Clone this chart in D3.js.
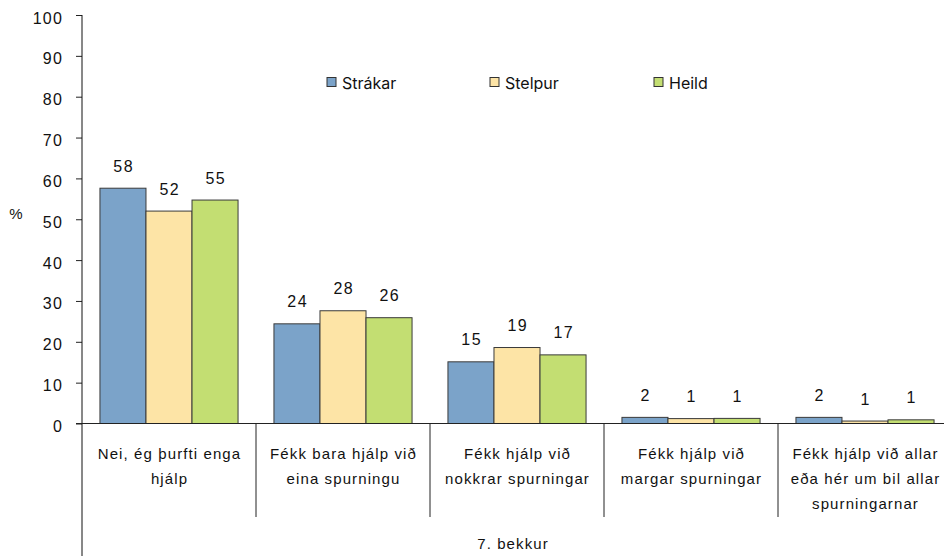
<!DOCTYPE html>
<html>
<head>
<meta charset="utf-8">
<script src="https://cdn.jsdelivr.net/npm/d3@7"></script>
<style>
  body { margin: 0; background: #fff; }
  svg { display: block; }
  text { font-family: "Liberation Sans", Arial, sans-serif; fill: #111; }
</style>
</head>
<body>
<div id="chart"></div>
<script>
// data
const categories = [
  ["Nei, ég þurfti enga", "hjálp"],
  ["Fékk bara hjálp við", "eina spurningu"],
  ["Fékk hjálp við", "nokkrar spurningar"],
  ["Fékk hjálp við", "margar spurningar"],
  ["Fékk hjálp við allar", "eða hér um bil allar", "spurningarnar"]
];
const seriesNames = ["Strákar", "Stelpur", "Heild"];
const strakar = [57.6, 24.4, 15.1, 1.5, 1.5];
const stelpur = [52.0, 27.6, 18.6, 1.2, 0.6];
const heild = [54.7, 25.9, 16.8, 1.25, 0.9];
const yTicks = [0, 10, 20, 30, 40, 50, 60, 70, 80, 90, 100];
const colors = ["#7ba3c9", "#fde4a6", "#c3de72"];

const width = 944, height = 556;
const mLeft = 82, mTop = 15, plotBottom = 423.5, mRight = 952;

const svg = d3.select("#chart").append("svg")
  .attr("width", width)
  .attr("height", height);

const y = d3.scaleLinear().domain([0, 100]).range([plotBottom, mTop]);
const x = d3.scaleBand().domain(d3.range(categories.length)).range([mLeft, mRight]).paddingInner(0).paddingOuter(0);
const xs = d3.scaleBand().domain(d3.range(seriesNames.length)).range([0, x.bandwidth()]).paddingInner(0).paddingOuter(0.39);

const values = [strakar, stelpur, heild];

// y axis
const yAxis = svg.append("g")
  .attr("transform", `translate(${mLeft},0)`)
  .call(d3.axisLeft(y).tickValues(yTicks).tickSize(6).tickPadding(13));
yAxis.select(".domain").remove();
yAxis.selectAll("line").attr("stroke", "#222");
yAxis.selectAll("text")
  .style("font-family", "'Liberation Sans', Arial, sans-serif")
  .style("font-size", "16px")
  .style("letter-spacing", "1.2px")
  .attr("dy", "0.5em")
  .style("fill", "#111");

svg.append("line")
  .attr("x1", mLeft).attr("x2", mLeft)
  .attr("y1", mTop).attr("y2", height)
  .attr("stroke", "#111");

svg.append("text")
  .attr("x", 16).attr("y", 219)
  .attr("text-anchor", "middle")
  .style("font-size", "15px")
  .text("%");

// bars
values.forEach((vals, s) => {
  svg.append("g").selectAll("rect")
    .data(vals)
    .join("rect")
    .attr("x", (d, i) => x(i) + xs(s))
    .attr("y", d => y(d))
    .attr("width", xs.bandwidth())
    .attr("height", d => y(0) - y(d))
    .attr("fill", colors[s])
    .attr("stroke", "#3a3a3a")
    .attr("stroke-width", 1);

  svg.append("g").selectAll("text")
    .data(vals)
    .join("text")
    .attr("x", (d, i) => x(i) + xs(s) + xs.bandwidth() / 2 + 0.7)
    .attr("y", d => y(d) - 16.5)
    .attr("text-anchor", "middle")
    .style("font-size", "16px")
    .style("letter-spacing", "1.4px")
    .text(d => Math.round(d));
});

// x axis line
svg.append("line")
  .attr("x1", mLeft - 6).attr("x2", width)
  .attr("y1", y(0)).attr("y2", y(0))
  .attr("stroke", "#222");

// category dividers
svg.append("g").selectAll("line")
  .data(d3.range(1, categories.length))
  .join("line")
  .attr("x1", i => x(i)).attr("x2", i => x(i))
  .attr("y1", y(0)).attr("y2", 517)
  .attr("stroke", "#222");

// category labels
categories.forEach((lines, i) => {
  const t = svg.append("text")
    .attr("text-anchor", "middle")
    .style("font-size", "15px")
    .style("letter-spacing", "1.1px");
  lines.forEach((l, k) => {
    t.append("tspan")
      .attr("x", x(i) + x.bandwidth() / 2 + 0.5)
      .attr("y", 458.5 + k * 25)
      .text(l);
  });
});

svg.append("text")
  .attr("x", 513).attr("y", 548.5)
  .attr("text-anchor", "middle")
  .style("font-size", "15px")
  .style("letter-spacing", "1.1px")
  .text("7. bekkur");

// legend
const legX = [327, 490, 654];
seriesNames.forEach((name, s) => {
  svg.append("rect")
    .attr("x", legX[s]).attr("y", 77.5)
    .attr("width", 9).attr("height", 9)
    .attr("fill", colors[s])
    .attr("stroke", "#333");
  svg.append("text")
    .attr("x", legX[s] + 15).attr("y", 88.5)
    .style("font-family", "Inter, 'Liberation Sans', sans-serif")
    .style("font-size", "16px")
    .text(name);
});
</script>
</body>
</html>
